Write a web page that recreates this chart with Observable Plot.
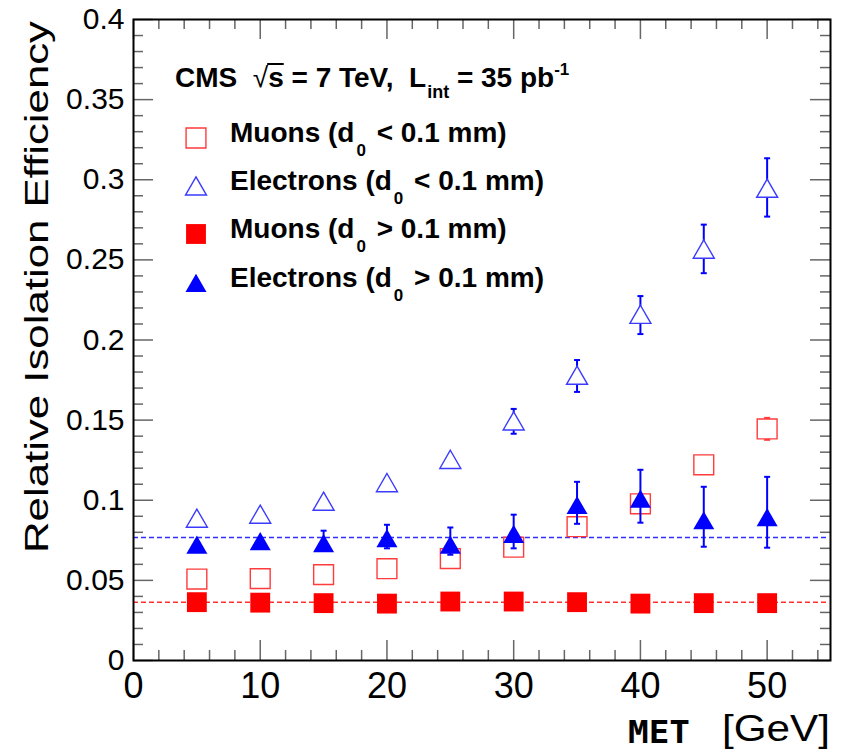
<!DOCTYPE html>
<html><head><meta charset="utf-8">
<script src="https://cdn.jsdelivr.net/npm/d3@7"></script>
<script src="https://cdn.jsdelivr.net/npm/@observablehq/plot@0.6"></script>
<style>body{margin:0;background:#fff}</style>
</head><body><div id="chart"></div>
<script>
// ---- data ----
const met = [5, 10, 15, 20, 25, 30, 35, 40, 45, 50];

// Muons (d0 < 0.1 mm) - open squares
const muLow   = [0.0508, 0.0511, 0.0536, 0.0573, 0.0636, 0.0707, 0.0835, 0.0978, 0.1221, 0.1445];
const muLowHi = [null, null, null, null, null, null, null, null, null, 0.1514];
const muLowLo = [null, null, null, null, null, null, null, null, null, 0.1377];

// Electrons (d0 < 0.1 mm) - open triangles
const elLow   = [0.0888, 0.0913, 0.0994, 0.1110, 0.1255, 0.1495, 0.1780, 0.2160, 0.2567, 0.2947];
const elLowHi = [null, null, null, null, null, 0.1570, 0.1875, 0.2274, 0.2720, 0.3134];
const elLowLo = [null, null, null, null, null, 0.1415, 0.1676, 0.2037, 0.2417, 0.2770];

// Muons (d0 > 0.1 mm) - filled squares
const muHigh  = [0.0364, 0.0361, 0.0358, 0.0355, 0.0368, 0.0368, 0.0364, 0.0355, 0.0358, 0.0358];

// Electrons (d0 > 0.1 mm) - filled triangles
const elHigh   = [0.0723, 0.0745, 0.0732, 0.0763, 0.0723, 0.0790, 0.0970, 0.1010, 0.0875, 0.0894];
const elHighHi = [null, null, 0.0810, 0.0847, 0.0830, 0.0910, 0.1115, 0.1190, 0.1084, 0.1146];
const elHighLo = [null, null, null, 0.0700, 0.0660, 0.0700, 0.0853, 0.0860, 0.0710, 0.0704];

// flat fit levels (dashed lines)
const fitElectron = [0.0768];
const fitMuon = [0.0363];

// axis ticks
const xMajor = [0, 10, 20, 30, 40, 50];
const xMinor = [2, 4, 6, 8, 12, 14, 16, 18, 22, 24, 26, 28, 32, 34, 36, 38, 42, 44, 46, 48, 52, 54];
const yMajor = [0, 0.05, 0.1, 0.15, 0.2, 0.25, 0.3, 0.35, 0.4];
const yMinor = [0.01,0.02,0.03,0.04,0.06,0.07,0.08,0.09,0.11,0.12,0.13,0.14,0.16,0.17,0.18,0.19,
                0.21,0.22,0.23,0.24,0.26,0.27,0.28,0.29,0.31,0.32,0.33,0.34,0.36,0.37,0.38,0.39];
const yTickLabels = ["0", "0.05", "0.1", "0.15", "0.2", "0.25", "0.3", "0.35", "0.4"];
const xTickLabels = ["0", "10", "20", "30", "40", "50"];

// ---- layout ----
const W = 841, H = 752, mL = 133, mR = 11, mT = 19, mB = 92;
const innerW = W - mL - mR, innerH = H - mT - mB;
const font = "'Liberation Sans', Arial, Helvetica, sans-serif";
const narrow = "'Liberation Sans Narrow', 'Liberation Sans', Arial, sans-serif";

const RED = "#ff0000", RED_O = "#ff3b3b", BLUE = "#0000ff", BLUE_O = "#3b3bff";

function rows(vals, hi, lo) {
  return met.map((x, i) => ({x, v: vals[i], hi: hi ? hi[i] : null, lo: lo ? lo[i] : null}));
}
const sMuLow = rows(muLow, muLowHi, muLowLo);
const sElLow = rows(elLow, elLowHi, elLowLo);
const sMuHigh = rows(muHigh);
const sElHigh = rows(elHigh, elHighHi, elHighLo);

const capSym = {draw(ctx) { ctx.moveTo(-3, 0); ctx.lineTo(3, 0); }};

function errMarks(data, color) {
  const withErr = data.filter(d => d.hi != null || d.lo != null);
  const caps = withErr.flatMap(d => [d.hi, d.lo].filter(e => e != null).map(e => ({x: d.x, e})));
  return [
    Plot.ruleX(withErr, {x: "x", y1: d => d.lo ?? d.v, y2: d => d.hi ?? d.v, stroke: color, strokeWidth: 2}),
    Plot.dot(caps, {x: "x", y: "e", symbol: capSym, r: 3, stroke: color, strokeWidth: 2, fill: "none"})
  ];
}

const sqR = 11.2;  // square side ~20px
const triR = 7.8;  // triangle side ~21px

const chart = Plot.plot({
  width: W, height: H,
  marginLeft: mL, marginRight: mR, marginTop: mT, marginBottom: mB,
  x: {domain: [0, 55], axis: null},
  y: {domain: [0, 0.4], axis: null},
  style: {background: "white", fontFamily: font},
  marks: [
    // fit lines
    Plot.ruleY(fitElectron, {y: d => d, stroke: "#2f2fff", strokeWidth: 1.6, strokeDasharray: "5,3", insetRight: 4}),
    Plot.ruleY(fitMuon, {y: d => d, stroke: "#ff3030", strokeWidth: 1.5, strokeDasharray: "5,3", insetRight: 4}),
    // ticks (inside the frame, on all four sides)
    Plot.ruleX(xMajor, {x: d => d, insetTop: innerH - 20, stroke: "#666", strokeWidth: 1.5}),
    Plot.ruleX(xMajor, {x: d => d, insetBottom: innerH - 20, stroke: "#666", strokeWidth: 1.5}),
    Plot.ruleX(xMinor, {x: d => d, insetTop: innerH - 10, stroke: "#666", strokeWidth: 1.5}),
    Plot.ruleX(xMinor, {x: d => d, insetBottom: innerH - 10, stroke: "#666", strokeWidth: 1.5}),
    Plot.ruleY(yMajor, {y: d => d, insetRight: innerW - 20, stroke: "#666", strokeWidth: 1.5}),
    Plot.ruleY(yMajor, {y: d => d, insetLeft: innerW - 20, stroke: "#666", strokeWidth: 1.5}),
    Plot.ruleY(yMinor, {y: d => d, insetRight: innerW - 10, stroke: "#666", strokeWidth: 1.5}),
    Plot.ruleY(yMinor, {y: d => d, insetLeft: innerW - 10, stroke: "#666", strokeWidth: 1.5}),
    // muons d0 < 0.1
    ...errMarks(sMuLow, RED_O),
    Plot.dot(sMuLow, {x: "x", y: "v", symbol: "square", r: sqR, fill: "white", stroke: RED_O, strokeWidth: 1.4}),
    // electrons d0 < 0.1
    ...errMarks(sElLow, BLUE),
    Plot.dot(sElLow, {x: "x", y: "v", symbol: "triangle", r: triR, dy: 3, fill: "white", stroke: BLUE_O, strokeWidth: 1.4}),
    // muons d0 > 0.1
    Plot.dot(sMuHigh, {x: "x", y: "v", symbol: "square", r: sqR, fill: RED, stroke: "none"}),
    // electrons d0 > 0.1
    ...errMarks(sElHigh, BLUE),
    Plot.dot(sElHigh, {x: "x", y: "v", symbol: "triangle", r: triR, dy: 3, fill: BLUE, stroke: "none"}),
    // tick labels
    Plot.text(yMajor, {y: d => d, text: (d, i) => yTickLabels[i], frameAnchor: "left", textAnchor: "end",
      dx: -9, fontSize: 30, fill: "black"}),
    Plot.text(xMajor, {x: d => d, text: (d, i) => xTickLabels[i], frameAnchor: "bottom", lineAnchor: "bottom",
      dy: 37, fontSize: 36, fontFamily: narrow, fill: "black"}),
    Plot.frame({stroke: "black", strokeWidth: 2})
  ]
});
document.getElementById("chart").appendChild(chart);

// ---- titles and legend ----
const svg = d3.select(chart);

svg.append("text")
  .attr("transform", "translate(48,553) rotate(-90)")
  .attr("text-anchor", "start")
  .attr("font-family", font).attr("font-size", 34).attr("fill", "black")
  .attr("textLength", 532).attr("lengthAdjust", "spacingAndGlyphs")
  .text("Relative Isolation Efficiency");

svg.append("text")
  .attr("x", 628).attr("y", 743).attr("text-anchor", "start")
  .attr("font-family", "'DejaVu Sans Mono', monospace").attr("font-weight", "bold")
  .attr("font-size", 32).attr("fill", "black")
  .attr("textLength", 62).attr("lengthAdjust", "spacingAndGlyphs")
  .text("MET");
svg.append("text")
  .attr("x", 722).attr("y", 741).attr("text-anchor", "start")
  .attr("font-family", font).attr("font-size", 36).attr("fill", "black")
  .attr("textLength", 108).attr("lengthAdjust", "spacingAndGlyphs")
  .text("[GeV]");

// header
const hdr = svg.append("text")
  .attr("x", 175).attr("y", 87).attr("text-anchor", "start")
  .attr("font-family", font).attr("font-weight", "bold").attr("font-size", 28).attr("fill", "black")
  .attr("xml:space", "preserve");
hdr.append("tspan").text("CMS  ");
hdr.append("tspan").attr("font-weight", "normal").text("\u221A");
hdr.append("tspan").text("s = 7 TeV,  L");
hdr.append("tspan").attr("font-size", 18).attr("dy", 11).attr("dx", 1).text("int");
hdr.append("tspan").attr("dy", -11).text(" = 35 pb");
hdr.append("tspan").attr("font-size", 17).attr("dy", -12).text("-1");
try {
  const node = hdr.node();
  const full = node.textContent;
  const iRoot = full.indexOf("\u221A"), iS = iRoot + 1;
  const eR = node.getExtentOfChar(iRoot), eS = node.getExtentOfChar(iS);
  const yTop = eR.y + 2;
  svg.append("line").attr("x1", eR.x + eR.width - 1).attr("x2", eS.x + eS.width)
    .attr("y1", yTop).attr("y2", yTop).attr("stroke", "black").attr("stroke-width", 2);
} catch (e) {}

const legendItems = [
  {name: "Muons", op: "<", base: 142, symbol: d3.symbolSquare, r: sqR, fill: "white", stroke: RED_O, dy: 0},
  {name: "Electrons", op: "<", base: 190, symbol: d3.symbolTriangle, r: triR, fill: "white", stroke: BLUE_O, dy: 3},
  {name: "Muons", op: ">", base: 238, symbol: d3.symbolSquare, r: sqR, fill: RED, stroke: "none", dy: 0},
  {name: "Electrons", op: ">", base: 287, symbol: d3.symbolTriangle, r: triR, fill: BLUE, stroke: "none", dy: 3}
];
for (const it of legendItems) {
  svg.append("path")
    .attr("d", d3.symbol(it.symbol, Math.PI * it.r * it.r)())
    .attr("transform", `translate(196,${it.base - 4 + it.dy})`)
    .attr("fill", it.fill).attr("stroke", it.stroke).attr("stroke-width", 1.4);
  const t = svg.append("text")
    .attr("x", 230).attr("y", it.base).attr("text-anchor", "start")
    .attr("font-family", font).attr("font-weight", "bold").attr("font-size", 28).attr("fill", "black")
    .attr("xml:space", "preserve");
  t.append("tspan").text(`${it.name} (d`);
  t.append("tspan").attr("font-size", 17).attr("dy", 14).attr("dx", 2).text("0");
  t.append("tspan").attr("dy", -14).attr("dx", 3).text(` ${it.op} 0.1 mm)`);
}
</script>
</body></html>
